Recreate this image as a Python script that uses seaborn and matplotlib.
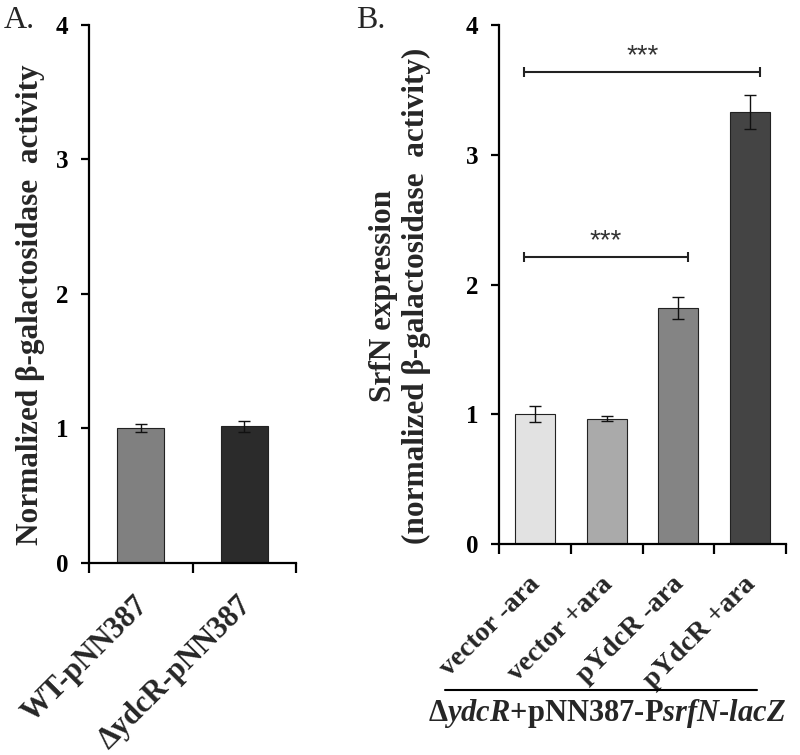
import numpy as np
import pandas as pd
import matplotlib
matplotlib.use('Agg')
import matplotlib.pyplot as plt
import seaborn as sns
from matplotlib.transforms import ScaledTranslation
from matplotlib.lines import Line2D

sns.set_style('ticks')
plt.rcParams['font.family'] = ['Liberation Serif', 'DejaVu Serif']
plt.rcParams['mathtext.fontset'] = 'custom'
plt.rcParams['mathtext.rm'] = 'Liberation Serif:bold'
plt.rcParams['mathtext.it'] = 'Liberation Serif:italic:bold'
plt.rcParams['mathtext.bf'] = 'Liberation Serif:bold'

# ---- data ----
a_labels = ['WT-pNN387', 'ΔydcR-pNN387']
a_values = [1.00, 1.015]
a_errors = [0.03, 0.04]
a_colors = ['#808080', '#2b2b2b']

b_labels = ['vector -ara', 'vector +ara', 'pYdcR -ara', 'pYdcR +ara']
b_values = [1.00, 0.965, 1.82, 3.33]
b_errors = [0.06, 0.02, 0.085, 0.13]
b_colors = ['#e2e2e2', '#aaaaaa', '#848484', '#444444']

y_ticks = [0, 1, 2, 3, 4]

sig_start = [-0.15, -0.15]
sig_end = [2.13, 3.14]
sig_y = [2.21, 3.64]
sig_text = ['***', '***']

a_ylabel = 'Normalized β-galactosidase  activity'
b_ylabel = 'SrfN expression\n(normalized β-galactosidase  activity)'
b_group = r'Δ$\mathit{ydcR}$+pNN387-P$\mathit{srfN}$-$\mathit{lacZ}$'

W, H = 800, 755
fig = plt.figure(figsize=(W / 100, H / 100), dpi=100)
axA = fig.add_axes([89 / W, 1 - 562.7 / H, 207 / W, (562.7 - 25) / H])
axB = fig.add_axes([499 / W, 1 - 544 / H, 287 / W, 519 / H])


def draw(ax, labels, values, errors, colors, width, xfs, xoff):
    df = pd.DataFrame({'cond': labels, 'val': values})
    sns.barplot(data=df, x='cond', y='val', hue='cond', palette=colors,
                width=width, edgecolor='#222222', linewidth=0.8,
                saturation=1, errorbar=None, legend=False, ax=ax)
    n = len(labels)
    ax.errorbar(np.arange(n), values, yerr=errors, fmt='none',
                ecolor='#111111', elinewidth=1.0, capsize=4, capthick=1.0)
    ax.set_ylim(0, 4)
    ax.set_xlim(-0.5, n - 0.5)
    ax.set_yticks(y_ticks)
    ax.set_xlabel('')
    sns.despine(ax=ax)
    for s in ['left', 'bottom']:
        ax.spines[s].set_linewidth(1.6)
        ax.spines[s].set_color('black')
    ax.tick_params(axis='y', direction='out', length=6, width=1.6, pad=9,
                   labelsize=18, colors='black')
    ax.set_xticks(np.arange(-0.5, n), minor=True)
    ax.tick_params(axis='x', which='minor', direction='out', length=7,
                   width=1.6, color='black')
    ax.tick_params(axis='x', which='major', length=0, pad=20)
    for l in ax.get_yticklabels():
        l.set_fontweight('bold')
    ax.set_xticks(np.arange(n))
    ax.set_xticklabels(labels, rotation=45, ha='right', va='top',
                       rotation_mode='anchor', fontsize=xfs, fontweight='bold')
    off = ScaledTranslation(xoff / 100, 0, fig.dpi_scale_trans)
    for l in ax.get_xticklabels():
        l.set_transform(l.get_transform() + off)


draw(axA, a_labels, a_values, a_errors, a_colors, 0.45, 22, -7)
draw(axB, b_labels, b_values, b_errors, b_colors, 0.56, 20, -7)

axA.set_ylabel(a_ylabel, fontsize=22.5, fontweight='bold')
axA.yaxis.set_label_coords(-0.285, 0.479)
axA.yaxis.label.set_va('center')

axB.set_ylabel(b_ylabel, fontsize=22.5, fontweight='bold', linespacing=1.15)
axB.yaxis.set_label_coords(-0.345, 0.478)
axB.yaxis.label.set_va('center')

for x0, x1, y, t in zip(sig_start, sig_end, sig_y, sig_text):
    axB.plot([x0, x1], [y, y], color='#222222', lw=1.5, marker='|',
             markersize=7, markeredgewidth=1.5)
    axB.text((x0 + x1) / 2, y + 0.12, t, ha='center', va='center',
             fontsize=20, color='#333333', family='Liberation Sans')

axB.add_line(Line2D([-0.188, 0.899], [-0.281, -0.281], transform=axB.transAxes,
                    color='black', lw=1.5, clip_on=False))
axB.text(0.376, -0.326, b_group, transform=axB.transAxes, ha='center',
         va='center', fontsize=22, fontweight='bold')

fig.text(19 / W, 1 - 20 / H, 'A.', ha='center', va='center', fontsize=23)
fig.text(371 / W, 1 - 20 / H, 'B.', ha='center', va='center', fontsize=23)

fig.savefig('out.png', dpi=100)
